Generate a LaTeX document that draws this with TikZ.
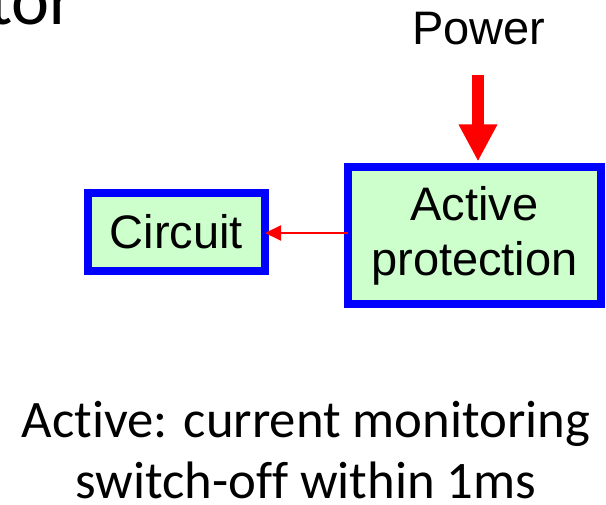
\documentclass[tikz,border=0pt]{standalone}
\usepackage{fontspec}
\setmainfont{Carlito}[Ligatures={NoCommon}]
\newfontfamily\arialfont{Liberation Sans}
\usetikzlibrary{arrows.meta}
\definecolor{boxgreen}{HTML}{CCFFCC}
\definecolor{boxblue}{HTML}{0000FF}
\definecolor{feedred}{HTML}{FF0000}
\begin{document}
\begin{tikzpicture}[x=1pt, y=-1pt,
    blockbox/.style={draw=boxblue, fill=boxgreen, line width=8pt, inner sep=0pt,
      align=center, font=\arialfont\fontsize{47}{55}\selectfont},
    label/.style={inner sep=0pt, font=\arialfont\fontsize{47}{55}\selectfont}]
  \useasboundingbox (0,0) rectangle (606,505);
  % cut title at the top
  \node[anchor=base east, inner sep=0pt, font=\fontsize{72}{80}\selectfont] (title) at (75,25) {tor};
  % blocks
  \node[blockbox, minimum width=253, minimum height=137] (prot) at (474.5,236) {Active\\protection};
  \node[blockbox, minimum width=177, minimum height=78] (circ) at (176.5,232) {Circuit};
  \node[label, anchor=base] (power) at (479,45) {Power};
  \coordinate (pwrin) at (478,75);
  \draw[feedred, line width=12pt, -{Triangle[width=36pt, length=37pt]}, shorten >=2pt] (pwrin) -- (prot.north -| pwrin);
  \draw[feedred, line width=2pt, -{Triangle[width=15pt, length=16pt]}, shorten >=-4pt, shorten <=-4pt] (prot.west |- 0,233) -- (circ.east |- 0,233);
  % note
  \node[anchor=base, align=center, inner sep=0pt, font=\fontsize{52.7}{62}\selectfont] (note) at (306,499)
    {Active: current monitoring\\switch-off within 1ms};
\end{tikzpicture}
\end{document}
